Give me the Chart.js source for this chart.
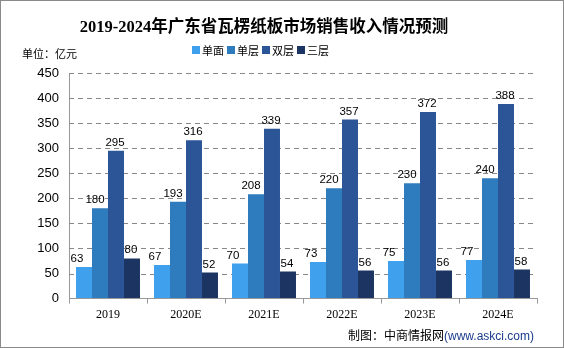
<!DOCTYPE html>
<html><head><meta charset="utf-8">
<script src="https://cdn.jsdelivr.net/npm/chart.js@4/dist/chart.umd.min.js"></script>
<style>
html,body{margin:0;padding:0;background:#fff;}
#wrap{position:relative;width:564px;height:348px;box-sizing:border-box;border:1px solid #8a8a8a;overflow:hidden;}
canvas{position:absolute;left:0;top:0;}
.t{position:absolute;white-space:nowrap;color:#000;}
#title{left:0;width:526px;top:12px;text-align:center;font:bold 16.5px "Liberation Serif","Noto Sans CJK SC",serif;}
#unit{left:21px;top:44px;font:11px "Noto Sans CJK SC",sans-serif;}
#legend{left:191px;top:41px;font:11px "Noto Sans CJK SC",sans-serif;display:flex;}
#legend span.i{display:flex;align-items:center;margin-right:3px;}
#legend span.b{display:inline-block;width:8px;height:8px;margin-right:2px;}
#foot{left:347px;top:325px;font:12px "Noto Sans CJK SC",sans-serif;}
#foot .u{font-family:"Liberation Sans",Arial,sans-serif;color:#1b3c8c;}
</style></head>
<body>
<div id="wrap">
<canvas id="c" width="562" height="346"></canvas>
<div class="t" id="title">2019-2024年广东省瓦楞纸板市场销售收入情况预测</div>
<div class="t" id="unit">单位：亿元</div>
<div class="t" id="legend"></div>
<div class="t" id="foot">制图：中商情报网<span class="u">(www.askci.com)</span></div>
</div>
<script>
const categories = ["2019","2020E","2021E","2022E","2023E","2024E"];
const seriesNames = ["单面","单层","双层","三层"];
const danMian = [63,67,70,73,75,77];
const danCeng = [180,193,208,220,230,240];
const shuangCeng = [295,316,339,357,372,388];
const sanCeng = [80,52,54,56,56,58];
const yTicks = [0,50,100,150,200,250,300,350,400,450];
const colors = ["#3FA0EE","#2E7BBD","#2B5597","#1C3461"];
const labelDx = [-7,-5,-1,-1];

const seriesData = [danMian, danCeng, shuangCeng, sanCeng];
const datasets = seriesNames.map((n,i)=>({
  label:n, data:seriesData[i], backgroundColor:colors[i], borderWidth:0,
  categoryPercentage:0.82, barPercentage:1.0
}));

const lg = document.getElementById('legend');
seriesNames.forEach((n,i)=>{
  const s=document.createElement('span'); s.className='i';
  s.innerHTML='<span class="b" style="background:'+colors[i]+'"></span>'+n;
  lg.appendChild(s);
});

const gridPlugin = {
  id:'dashGrid',
  beforeDatasetsDraw(chart){
    const ctx=chart.ctx, y=chart.scales.y, a=chart.chartArea;
    ctx.save();
    ctx.strokeStyle='#888888';
    ctx.lineWidth=1;
    ctx.setLineDash([5,4]);
    y.ticks.forEach(t=>{
      if(t.value===0) return;
      const py=Math.round(y.getPixelForValue(t.value))+0.5;
      ctx.beginPath(); ctx.moveTo(a.left,py); ctx.lineTo(a.right,py); ctx.stroke();
    });
    ctx.restore();
  }
};

const labelPlugin = {
  id:'vals',
  afterDatasetsDraw(chart){
    const ctx=chart.ctx;
    ctx.save();
    ctx.font='11.5px "Liberation Sans", Arial, sans-serif';
    ctx.fillStyle='#000';
    ctx.textAlign='center';
    ctx.textBaseline='alphabetic';
    chart.data.datasets.forEach((ds,di)=>{
      chart.getDatasetMeta(di).data.forEach((bar,j)=>{
        ctx.fillText(String(ds.data[j]), bar.x+labelDx[di], bar.y-5);
      });
    });
    ctx.restore();
  }
};

new Chart(document.getElementById('c'),{
  type:'bar',
  data:{labels:categories, datasets},
  options:{
    responsive:false, animation:false,
    layout:{padding:{left:27,right:26,top:72,bottom:21}},
    plugins:{legend:{display:false},title:{display:false},tooltip:{enabled:false}},
    scales:{
      x:{
        grid:{display:true,drawOnChartArea:false,offset:true,color:'#999',tickLength:5},
        border:{display:true,color:'#999',width:1},
        ticks:{color:'#000',font:{family:'"Liberation Serif", serif',size:12},padding:4,maxRotation:0}
      },
      y:{
        min:0,max:450,
        afterBuildTicks(s){ s.ticks = yTicks.map(v=>({value:v})); },
        afterFit(s){ s.width=41; },
        grid:{display:true,drawOnChartArea:false,drawTicks:false},
        border:{display:true,color:'#999',width:1},
        ticks:{color:'#000',font:{family:'"Liberation Sans", Arial, sans-serif',size:13},padding:10}
      }
    }
  },
  plugins:[gridPlugin,labelPlugin]
});
</script>
</body></html>
